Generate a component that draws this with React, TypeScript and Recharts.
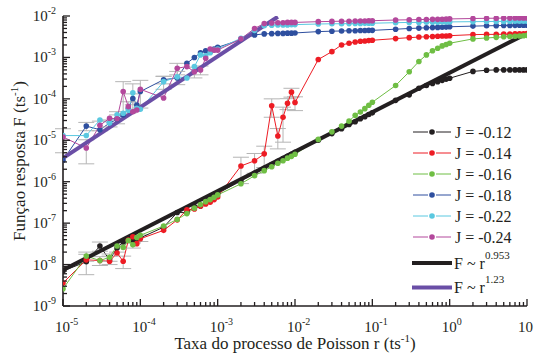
import { LineChart, Line, XAxis, YAxis, ErrorBar, Legend } from "recharts";

const INK = "#231f20";
const SERIF = "Liberation Serif";

// x grid: r = m * 10^d
const MANTISSAS = [1, 2, 3, 4, 5, 6, 7, 8, 9];
const DECADES = [-5, -4, -3, -2, -1, 0];
const R = [...DECADES.flatMap((d) => MANTISSAS.map((m) => m * 10 ** d)), 10];

const X_DECADES = [-5, -4, -3, -2, -1, 0, 1];
const Y_DECADES = [-9, -8, -7, -6, -5, -4, -3, -2];

// F(r) for each J
const J12 = [
  7.0e-9, 1.17e-8, 2.8e-8, 1.3e-8, 2.5e-8, 3.5e-8, 4.3e-8, 3.9e-8, 4.2e-8,
  4.4e-8, 8.0e-8, 1.8e-7, 1.8e-7, 2.5e-7, 2.6e-7, 3.3e-7, 3.8e-7, 4.3e-7,
  5.2e-7, 1.05e-6, 1.6e-6, 2.1e-6, 2.6e-6, 3.1e-6, 3.6e-6, 4.1e-6, 4.6e-6,
  5.1e-6, 1.0e-5, 1.45e-5, 1.9e-5, 2.4e-5, 2.8e-5, 3.3e-5, 3.7e-5, 4.2e-5,
  4.6e-5, 9.2e-5, 1.25e-4, 1.8e-4, 2.1e-4, 2.35e-4, 2.6e-4, 2.8e-4, 3.0e-4,
  3.15e-4, 4.6e-4, 4.9e-4, 5.0e-4, 5.0e-4, 5.0e-4, 5.0e-4, 5.0e-4, 5.0e-4,
  5.0e-4,
];
const J14 = [
  3.6e-9, 1.3e-8, 1.25e-8, 1.2e-8, 1.9e-8, 1.2e-8, 3.9e-8, 4.7e-8, 3.2e-8,
  4.2e-8, 6.7e-8, 1.2e-7, 2.1e-7, 2.2e-7, 2.6e-7, 2.9e-7, 3.2e-7, 3.7e-7,
  4.3e-7, 2.4e-6, 3.2e-6, 4.7e-6, 6.8e-5, 1.27e-5, 3.6e-5, 7.8e-5, 1.45e-4,
  8.2e-5, 8.9e-4, 1.38e-3, 2.0e-3, 2.2e-3, 2.35e-3, 2.45e-3, 2.5e-3, 2.55e-3,
  2.6e-3, 2.85e-3, 3.0e-3, 3.1e-3, 3.15e-3, 3.2e-3, 3.25e-3, 3.3e-3, 3.3e-3,
  3.35e-3, 3.55e-3, 3.6e-3, 3.6e-3, 3.65e-3, 3.65e-3, 3.7e-3, 3.7e-3, 3.7e-3,
  3.75e-3,
];
const J16 = [
  2.6e-9, 1.6e-8, 1.25e-8, 1.5e-8, 2.8e-8, 2.6e-8, 3.8e-8, 3.0e-8, 4.5e-8,
  5.1e-8, 8.5e-8, 1.23e-7, 1.7e-7, 2.3e-7, 2.8e-7, 3.3e-7, 3.7e-7, 4.2e-7,
  4.8e-7, 8.9e-7, 1.4e-6, 1.85e-6, 2.3e-6, 2.8e-6, 3.2e-6, 3.7e-6, 4.1e-6,
  4.6e-6, 1.05e-5, 1.6e-5, 2.2e-5, 2.9e-5, 4.0e-5, 4.8e-5, 5.8e-5, 7.0e-5,
  8.3e-5, 2.1e-4, 4.5e-4, 8.0e-4, 1.15e-3, 1.45e-3, 1.66e-3, 1.9e-3, 2.05e-3,
  2.2e-3, 2.8e-3, 2.95e-3, 3.05e-3, 3.15e-3, 3.2e-3, 3.25e-3, 3.3e-3, 3.35e-3,
  3.4e-3,
];
const J18 = [
  3.3e-6, 2.2e-5, 1.8e-5, 2.6e-5, 3.2e-5, 4.1e-5, 5.9e-5, 1.02e-4, 7.1e-5,
  1.5e-4, 2.9e-4, 3.2e-4, 7.2e-4, 1.0e-3, 1.3e-3, 1.45e-3, 1.35e-3, 1.6e-3,
  1.75e-3, 2.7e-3, 3.5e-3, 3.7e-3, 3.75e-3, 3.8e-3, 3.8e-3, 3.85e-3, 3.85e-3,
  3.9e-3, 4.2e-3, 4.3e-3, 4.35e-3, 4.4e-3, 4.4e-3, 4.45e-3, 4.45e-3, 4.5e-3,
  4.5e-3, 4.8e-3, 5.0e-3, 5.1e-3, 5.2e-3, 5.25e-3, 5.3e-3, 5.35e-3, 5.4e-3,
  5.5e-3, 5.7e-3, 5.8e-3, 5.85e-3, 5.9e-3, 5.9e-3, 5.95e-3, 6.0e-3, 6.0e-3,
  6.0e-3,
];
const J22 = [
  1.3e-5, 1.3e-5, 3.1e-5, 2.6e-5, 4.1e-5, 4.5e-5, 5.3e-5, 1.4e-4, 5.9e-5,
  5.6e-5, 2.6e-4, 3.4e-4, 3.2e-4, 6.0e-4, 1.15e-3, 1.1e-3, 1.3e-3, 1.5e-3,
  1.6e-3, 2.9e-3, 4.5e-3, 5.8e-3, 6.0e-3, 6.05e-3, 6.1e-3, 6.1e-3, 6.15e-3,
  6.2e-3, 6.4e-3, 6.5e-3, 6.5e-3, 6.55e-3, 6.6e-3, 6.6e-3, 6.65e-3, 6.7e-3,
  6.7e-3, 6.9e-3, 7.0e-3, 7.0e-3, 7.05e-3, 7.1e-3, 7.1e-3, 7.15e-3, 7.2e-3,
  7.2e-3, 7.3e-3, 7.35e-3, 7.4e-3, 7.4e-3, 7.45e-3, 7.5e-3, 7.5e-3, 7.5e-3,
  7.5e-3,
];
const J24 = [
  1.2e-5, 6.5e-6, 2.3e-5, 3.4e-5, 3.3e-5, 1.5e-4, 6.5e-5, 4.9e-5, 5.4e-5,
  1.7e-4, 1.05e-4, 5.5e-4, 6.0e-4, 4.5e-4, 5.0e-4, 9.5e-4, 1.6e-3, 1.5e-3,
  1.5e-3, 2.8e-3, 5.0e-3, 6.6e-3, 6.8e-3, 6.9e-3, 6.9e-3, 7.0e-3, 7.0e-3,
  7.0e-3, 7.3e-3, 7.4e-3, 7.5e-3, 7.5e-3, 7.55e-3, 7.6e-3, 7.6e-3, 7.65e-3,
  7.7e-3, 8.0e-3, 8.1e-3, 8.2e-3, 8.25e-3, 8.3e-3, 8.3e-3, 8.35e-3, 8.4e-3,
  8.5e-3, 8.7e-3, 8.8e-3, 8.85e-3, 8.9e-3, 8.9e-3, 8.95e-3, 9.0e-3, 9.0e-3,
  9.0e-3,
];

// error bars (sigma), from r = 1e-5 onward; missing = none
const E12 = [0, 6e-9, 7e-9, 3e-9, 5e-9, 0, 0, 6e-9, 0, 8e-9];
const E14 = [0, 0, 0, 0, 0, 4e-9, 0, 0, 0, 0, 0, 0, 0, 0, 0, 0, 0, 0, 0, 1.5e-6, 1.6e-6, 2.5e-6, 3.2e-5, 6.5e-6, 2.7e-5, 2.3e-5, 3.5e-5, 3.0e-5];
const E16 = [0, 4e-9, 3e-9, 3e-9, 0, 0, 0, 5e-9];
const E18 = [0, 5e-6, 0, 0, 0, 0, 0, 3e-5, 0, 0, 6e-5];
const E22 = [0, 0, 0, 5e-6, 8e-6, 0, 0, 9e-5, 0, 0, 9e-5, 1.2e-4];
const E24 = [7e-6, 3.8e-6, 6e-6, 0, 8e-6, 1.1e-4, 2e-5, 0, 0, 1.1e-4, 0, 1.7e-4, 0, 1.3e-4, 1.2e-4];

// power-law fits
const FIT1_R = [1e-5, 10];
const FIT1_F = [7.4e-9, 3.8e-3];
const FIT2_R = [1e-5, 6e-3];
const FIT2_F = [3.7e-6, 9.6e-3];

const SERIES = [
  { key: "j12", label: "J = -0.12", color: "#231f20", values: J12, err: E12 },
  { key: "j14", label: "J = -0.14", color: "#ed1c24", values: J14, err: E14 },
  { key: "j16", label: "J = -0.16", color: "#6fbe44", values: J16, err: E16 },
  { key: "j18", label: "J = -0.18", color: "#2e4f9f", values: J18, err: E18 },
  { key: "j22", label: "J = -0.22", color: "#5ac8e0", values: J22, err: E22 },
  { key: "j24", label: "J = -0.24", color: "#b3489c", values: J24, err: E24 },
];

const FITS = [
  { label: "0.953", color: "#231f20", r: FIT1_R, f: FIT1_F },
  { label: "1.23", color: "#6a4ea6", r: FIT2_R, f: FIT2_F },
];

const rows = R.map((r, i) => {
  const row: Record<string, number> = { r };
  SERIES.forEach((s) => {
    row[s.key] = s.values[i];
    row[s.key + "e"] = s.err[i] || 0;
  });
  return row;
});

const fitData = FITS.map((f) => f.r.map((r, i) => ({ r, F: f.f[i] })));

const logTicks = (decades: number[]) =>
  decades.flatMap((d, i) => (i === decades.length - 1 ? [10 ** d] : MANTISSAS.map((m) => m * 10 ** d)));
const X_TICKS = logTicks(X_DECADES);
const Y_TICKS = logTicks(Y_DECADES);

const isMajor = (v: number) => Math.abs(Math.log10(v) - Math.round(Math.log10(v))) < 1e-6;
const expOf = (v: number) => Math.round(Math.log10(v));

const MAJOR = 7;
const MINOR = 4;
const txt = { fill: INK, fontFamily: SERIF } as const;

function BottomTick({ x, y, payload }: any) {
  const v = payload.value;
  const major = isMajor(v);
  const last = expOf(v) === X_DECADES[X_DECADES.length - 1];
  return (
    <g>
      <line x1={x} x2={x} y1={y} y2={y - (major ? MAJOR : MINOR)} stroke={INK} strokeWidth={1.3} />
      {major && !last && (
        <text x={x - 8} y={y + 26} fontSize={15} style={txt}>
          10<tspan dy={-7} fontSize={10}>{expOf(v)}</tspan>
        </text>
      )}
      {major && last && (
        <text x={x + 6} y={y + 26} textAnchor="end" fontSize={15} style={txt}>
          10
        </text>
      )}
    </g>
  );
}

function TopTick({ x, y, payload }: any) {
  const major = isMajor(payload.value);
  return <line x1={x} x2={x} y1={y} y2={y + (major ? MAJOR : MINOR)} stroke={INK} strokeWidth={1.3} />;
}

function LeftTick({ x, y, payload }: any) {
  const v = payload.value;
  const major = isMajor(v);
  return (
    <g>
      <line x1={x} x2={x + (major ? MAJOR : MINOR)} y1={y} y2={y} stroke={INK} strokeWidth={1.3} />
      {major && (
        <text x={x - 7} y={y + 5} textAnchor="end" fontSize={15} style={txt}>
          10<tspan dy={-7} fontSize={10}>{expOf(v)}</tspan>
        </text>
      )}
    </g>
  );
}

function RightTick({ x, y, payload }: any) {
  const major = isMajor(payload.value);
  return <line x1={x} x2={x - (major ? MAJOR : MINOR)} y1={y} y2={y} stroke={INK} strokeWidth={1.3} />;
}

const xTitle = ({ viewBox }: any) => {
  const cx = viewBox.x + viewBox.width / 2;
  return (
    <text x={cx} y={viewBox.y + 43} textAnchor="middle" fontSize={17} style={txt}>
      Taxa do processo de Poisson r (ts<tspan dy={-7} fontSize={11}>-1</tspan>
      <tspan dy={7}>)</tspan>
    </text>
  );
};

const yTitle = ({ viewBox }: any) => {
  const cx = viewBox.x + 25;
  const cy = viewBox.y + viewBox.height / 2;
  return (
    <text x={cx} y={cy} transform={`rotate(-90 ${cx} ${cy})`} textAnchor="middle" fontSize={17} style={txt}>
      Funçao resposta F (ts<tspan dy={-7} fontSize={11}>-1</tspan>
      <tspan dy={7}>)</tspan>
    </text>
  );
};

function LegendBox() {
  return (
    <svg width={126} height={185} style={{ display: "block", overflow: "visible" }}>
      {SERIES.map((s, i) => {
        const cy = 14 + i * 21;
        return (
          <g key={s.key}>
            <line x1={5} x2={20} y1={cy} y2={cy} stroke={s.color} strokeWidth={1} />
            <circle cx={24} cy={cy} r={2.8} fill={s.color} />
            <line x1={28} x2={43} y1={cy} y2={cy} stroke={s.color} strokeWidth={1} />
            <text x={47} y={cy + 5.5} fontSize={16} style={txt}>
              {s.label}
            </text>
          </g>
        );
      })}
      {FITS.map((f, i) => {
        const cy = 145 + i * 24.5;
        return (
          <g key={f.label}>
            <line x1={4} x2={44} y1={cy} y2={cy} stroke={f.color} strokeWidth={4} />
            <text x={46} y={cy + 5.5} fontSize={16} style={txt}>
              F ~ r<tspan dy={-10} fontSize={11}>{f.label}</tspan>
            </text>
          </g>
        );
      })}
    </svg>
  );
}

const axisLine = { stroke: INK, strokeWidth: 1.6 };

export default function App() {
  return (
    <div style={{ position: "absolute", left: 0, top: 0, background: "#fff", fontFamily: SERIF }}>
      <LineChart width={534} height={355} margin={{ top: 16, right: 7, bottom: 0, left: 0 }} style={{ fontFamily: SERIF }}>
        <XAxis
          xAxisId="b"
          dataKey="r"
          type="number"
          scale="log"
          domain={[1e-5, 10]}
          allowDataOverflow
          ticks={X_TICKS}
          interval={0}
          tick={BottomTick}
          tickLine={false}
          tickSize={0}
          tickMargin={0}
          height={49}
          axisLine={axisLine}
          label={xTitle}
        />
        <XAxis
          xAxisId="t"
          orientation="top"
          dataKey="r"
          type="number"
          scale="log"
          domain={[1e-5, 10]}
          allowDataOverflow
          ticks={X_TICKS}
          interval={0}
          tick={TopTick}
          tickLine={false}
          tickSize={0}
          tickMargin={0}
          height={0}
          axisLine={axisLine}
        />
        <YAxis
          yAxisId="l"
          type="number"
          scale="log"
          domain={[1e-9, 1e-2]}
          allowDataOverflow
          ticks={Y_TICKS}
          interval={0}
          tick={LeftTick}
          tickLine={false}
          tickSize={0}
          tickMargin={0}
          width={63}
          axisLine={axisLine}
          label={yTitle}
        />
        <YAxis
          yAxisId="rt"
          orientation="right"
          type="number"
          scale="log"
          domain={[1e-9, 1e-2]}
          allowDataOverflow
          ticks={Y_TICKS}
          interval={0}
          tick={RightTick}
          tickLine={false}
          tickSize={0}
          tickMargin={0}
          width={0}
          axisLine={axisLine}
        />
        <Legend
          layout="vertical"
          align="center"
          verticalAlign="middle"
          content={() => <LegendBox />}
          wrapperStyle={{ left: 408, top: 118, width: 126 }}
        />
        {SERIES.map((s) => (
          <Line
            key={s.key}
            xAxisId="b"
            yAxisId="l"
            data={rows}
            dataKey={s.key}
            stroke={s.color}
            strokeWidth={1}
            dot={{ r: 2.8, fill: s.color, stroke: "none" }}
            activeDot={false}
            isAnimationActive={false}
          >
            <ErrorBar dataKey={s.key + "e"} direction="y" width={8} stroke="#b5b5b5" strokeWidth={1} />
          </Line>
        ))}
        {FITS.map((f, i) => (
          <Line
            key={f.label}
            xAxisId="b"
            yAxisId="l"
            data={fitData[i]}
            dataKey="F"
            stroke={f.color}
            strokeWidth={4}
            dot={false}
            activeDot={false}
            isAnimationActive={false}
          />
        ))}
        <Line
          xAxisId="t"
          yAxisId="rt"
          data={fitData[0]}
          dataKey="F"
          stroke="none"
          dot={false}
          activeDot={false}
          isAnimationActive={false}
        />
      </LineChart>
    </div>
  );
}
